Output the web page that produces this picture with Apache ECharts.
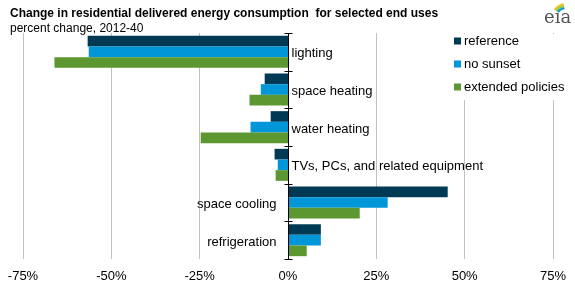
<!DOCTYPE html>
<html>
<head>
<meta charset="utf-8">
<script src="https://cdn.jsdelivr.net/npm/echarts@6/dist/echarts.min.js"></script>
<style>
html, body { margin: 0; padding: 0; background: #fff; }
#chart { width: 575px; height: 283px; }
</style>
</head>
<body>
<div id="chart"></div>
<script>
const categories = ['lighting', 'space heating', 'water heating', 'TVs, PCs, and related equipment', 'space cooling', 'refrigeration'];
const seriesNames = ['reference', 'no sunset', 'extended policies'];
const reference = [-56.7, -6.6, -4.9, -3.8, 45.2, 9.3];
const noSunset = [-56.4, -7.7, -10.6, -2.9, 28.2, 9.3];
const extendedPolicies = [-66.1, -10.9, -24.7, -3.5, 20.3, 5.3];
const xTicks = [-75, -50, -25, 0, 25, 50, 75];

const colors = ['#003953', '#0096d7', '#5d9732'];
const FONT = '"Liberation Sans", Arial, sans-serif';

const chart = echarts.init(document.getElementById('chart'));

// category labels sit right of the zero line when the bars go left, and left when they go right
const isNeg = categories.map((c, i) => reference[i] < 0);

// zero axis: line, crossing ticks and the category label for each band
const renderAxisBand = (params, api) => {
    const idx = api.value(1);
    const p = api.coord([0, idx]);
    const band = api.size([0, 1])[1];
    const x = Math.round(p[0]) + 0.5;
    const top = Math.round(p[1] - band / 2) + 0.5;
    const bot = Math.round(p[1] + band / 2) + 0.5;
    const lineStyle = { stroke: '#000', lineWidth: 1 };
    const children = [
        { type: 'line', shape: { x1: x, y1: top, x2: x, y2: bot }, style: lineStyle },
        { type: 'line', shape: { x1: x - 4, y1: top, x2: x + 4, y2: top }, style: lineStyle }
    ];
    if (idx === categories.length - 1) {
        children.push({ type: 'line', shape: { x1: x - 4, y1: bot, x2: x + 4, y2: bot }, style: lineStyle });
    }
    const neg = isNeg[idx];
    children.push({
        type: 'text',
        x: neg ? x + 3 : x - 12,
        y: p[1] + 2,
        style: {
            text: categories[idx],
            font: '13px ' + FONT,
            fill: '#000',
            align: neg ? 'left' : 'right',
            verticalAlign: 'middle'
        }
    });
    return { type: 'group', children };
};

chart.setOption({
    animation: false,
    textStyle: { fontFamily: FONT },
    title: [{
        text: 'Change in residential delivered energy consumption  for selected end uses',
        left: 5, top: 3,
        textStyle: { fontSize: 12, fontWeight: 'bold', color: '#000', fontFamily: FONT }
    }, {
        text: 'percent change, 2012-40',
        left: 5, top: 18,
        textStyle: { fontSize: 12, fontWeight: 'normal', color: '#000', fontFamily: FONT }
    }],
    legend: {
        orient: 'vertical',
        left: 452, top: 34,
        itemWidth: 7, itemHeight: 7, itemGap: 9,
        icon: 'rect',
        backgroundColor: '#fff',
        padding: [0, 4, 6, 2],
        textStyle: { fontSize: 13, lineHeight: 14, color: '#000', fontFamily: FONT, padding: [0, 0, 0, -2] },
        data: seriesNames
    },
    grid: { left: 23, right: 22, top: 33, bottom: 24, outerBoundsMode: 'none', containLabel: false },
    xAxis: {
        type: 'value',
        min: -75, max: 75, interval: 25,
        axisLine: { show: false },
        axisTick: { show: false },
        splitLine: { lineStyle: { color: '#c0c0c0', width: 1 } },
        axisLabel: {
            fontSize: 13, color: '#000', margin: 11,
            formatter: v => xTicks.includes(v) ? v + '%' : ''
        }
    },
    yAxis: {
        type: 'category',
        data: categories,
        inverse: true,
        axisLine: { show: false },
        axisTick: { show: false },
        axisLabel: { show: false },
        splitLine: { show: false }
    },
    series: [reference, noSunset, extendedPolicies].map((d, i) => ({
        name: seriesNames[i],
        type: 'bar',
        data: d,
        barGap: '0%',
        barCategoryGap: '15%',
        itemStyle: { color: colors[i] },
        z: 2
    })).concat([{
        name: 'axis',
        type: 'custom',
        renderItem: renderAxisBand,
        data: categories.map((c, i) => [0, i]),
        encode: { x: 0, y: 1 },
        silent: true,
        z: 5
    }]),
    graphic: [{
        type: 'text', left: 544, top: 9,
        style: { text: 'eia', font: '18px "DejaVu Serif", serif', fill: '#555' }
    }, {
        type: 'arc', shape: { cx: 566, cy: 18, r: 14, startAngle: Math.PI * 1.2, endAngle: Math.PI * 1.45 },
        style: { stroke: '#f2c21b', lineWidth: 2, fill: 'none' }
    }, {
        type: 'arc', shape: { cx: 566, cy: 18, r: 12, startAngle: Math.PI * 1.2, endAngle: Math.PI * 1.45 },
        style: { stroke: '#8dc63f', lineWidth: 2, fill: 'none' }
    }, {
        type: 'arc', shape: { cx: 566, cy: 18, r: 10, startAngle: Math.PI * 1.2, endAngle: Math.PI * 1.45 },
        style: { stroke: '#0096d7', lineWidth: 2, fill: 'none' }
    }]
});
</script>
</body>
</html>
